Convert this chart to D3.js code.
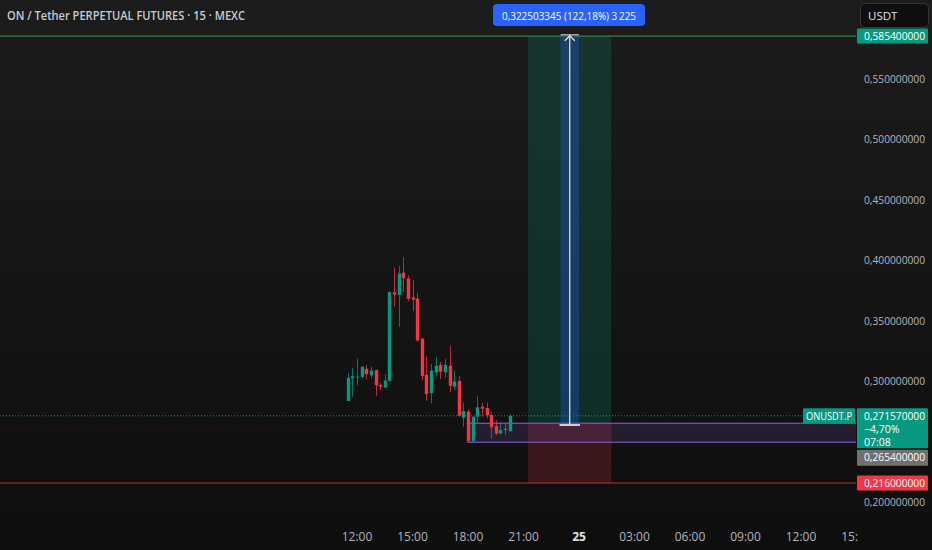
<!DOCTYPE html>
<html><head><meta charset="utf-8">
<script src="https://cdn.jsdelivr.net/npm/d3@7"></script>
<style>
html,body{margin:0;padding:0;background:#141414;overflow:hidden}
svg{display:block;font-family:"Open Sans","Noto Sans",sans-serif}
</style></head><body>
<svg id="c" width="932" height="550"></svg>
<script>
// ---- data ----
const times = ["11:30","11:45","12:00","12:15","12:30","12:45","13:00","13:15","13:30","13:45",
 "14:00","14:15","14:30","14:45","15:00","15:15","15:30","15:45","16:00","16:15",
 "16:30","16:45","17:00","17:15","17:30","17:45","18:00","18:15","18:30","18:45",
 "19:00","19:15","19:30","19:45","20:00","20:15"];
const open  = [.2838,.3026,.3037,.3037,.3104,.3050,.3095,.2970,.2949,.3004,
 .3737,.3715,.3898,.3850,.3693,.3685,.3353,.3054,.2902,.3073,
 .3137,.3076,.3129,.2957,.3004,.2700,.2750,.2509,.2708,.2791,
 .2780,.2722,.2630,.2570,.2608,.2589];
const high  = [.3070,.3112,.3187,.3130,.3134,.3123,.3095,.2990,.3060,.3745,
 .3939,.3953,.4025,.3876,.3837,.3732,.3358,.3206,.3145,.3200,
 .3162,.3184,.3295,.3090,.3046,.2824,.2770,.2715,.2880,.2824,
 .2824,.2750,.2680,.2666,.2650,.2730];
const low   = [.2838,.2873,.2970,.3026,.3020,.3026,.2880,.2924,.2949,.3000,
 .3616,.3450,.3737,.3662,.3580,.3330,.3007,.2841,.2819,.3040,
 .3020,.3032,.2915,.2930,.2708,.2625,.2500,.2500,.2647,.2708,
 .2695,.2528,.2556,.2562,.2562,.2583];
const close = [.3029,.3043,.3040,.3120,.3060,.3090,.2968,.2957,.3007,.3737,
 .3718,.3892,.3853,.3682,.3676,.3339,.3046,.2896,.3090,.3129,
 .3081,.3137,.2963,.2998,.2716,.2755,.2509,.2708,.2786,.2774,
 .2722,.2620,.2570,.2598,.2598,.27157];

const priceTicks = [0.20,0.30,0.35,0.40,0.45,0.50,0.55];
const timeTicks = ["2025-03-24T12:00","2025-03-24T15:00","2025-03-24T18:00","2025-03-24T21:00",
 "2025-03-25T00:00","2025-03-25T03:00","2025-03-25T06:00","2025-03-25T09:00","2025-03-25T12:00","2025-03-25T15:00"];

const lastPrice = 0.27157, changeText = "\u22124,70%", countdown = "07:08";
const entryPrice = 0.2654, targetPrice = 0.5854, stopPrice = 0.216;
const posStart = "2025-03-24T21:15", posEnd = "2025-03-25T01:45";
const measureFrom = 0.26396, measureTo = 0.58646, measureStart = "2025-03-24T23:00", measureEnd = "2025-03-25T00:00", measureMid = "2025-03-24T23:30";
const measureLabel = "0,322503345 (122,18%) 3\u2009225";
const boxStart = "2025-03-24T18:00", boxTop = 0.2654, boxBottom = 0.2497;
const title = "ON / Tether PERPETUAL FUTURES \u00b7 15 \u00b7 MEXC";
const symbolLabel = "ONUSDT.P";

// ---- setup ----
const W = 932, H = 550, plotR = 856;
const svg = d3.select("#c");
const parse = s => new Date(s + ":00Z");
const x = d3.scaleUtc().domain([parse("2025-03-24T12:00"), parse("2025-03-25T12:00")]).range([357, 801]);
const y = d3.scaleLinear().domain([0.2, 0.6]).range([502.4, 18.4]);
const fmt = v => v.toFixed(9).replace(".", ",");
const GREEN = "#089981", RED = "#f23645";

const defs = svg.append("defs");
const g = defs.append("linearGradient").attr("id","bg").attr("x1",0).attr("x2",0).attr("y1",0).attr("y2",1);
g.append("stop").attr("offset","0%").attr("stop-color","#1c1c1c");
g.append("stop").attr("offset","100%").attr("stop-color","#0e0e0e");
defs.append("clipPath").attr("id","plot").append("rect").attr("x",0).attr("y",0).attr("width",plotR).attr("height",H);
defs.append("clipPath").attr("id","timeclip").append("rect").attr("x",0).attr("y",0).attr("width",plotR+2).attr("height",H);
svg.append("rect").attr("width",W).attr("height",H).attr("fill","url(#bg)");

const plot = svg.append("g").attr("clip-path","url(#plot)");

// horizontal target / stop lines
plot.append("line").attr("x1",0).attr("x2",plotR).attr("y1",y(targetPrice)).attr("y2",y(targetPrice))
  .attr("stroke","#4caf50").attr("stroke-width",1).attr("opacity",0.85);
plot.append("line").attr("x1",0).attr("x2",plotR).attr("y1",y(stopPrice)).attr("y2",y(stopPrice))
  .attr("stroke","#d8363f").attr("stroke-width",1).attr("opacity",0.85);

// position tool
const px0 = x(parse(posStart)), px1 = x(parse(posEnd));
plot.append("rect").attr("x",px0).attr("width",px1-px0).attr("y",y(targetPrice)).attr("height",y(entryPrice)-y(targetPrice))
  .attr("fill",GREEN).attr("opacity",0.2);
plot.append("rect").attr("x",px0).attr("width",px1-px0).attr("y",y(entryPrice)).attr("height",y(stopPrice)-y(entryPrice))
  .attr("fill",RED).attr("opacity",0.2);

// purple box
const bx0 = x(parse(boxStart));
plot.append("rect").attr("x",bx0).attr("width",plotR-bx0+5).attr("y",y(boxTop)).attr("height",y(boxBottom)-y(boxTop))
  .attr("fill","#7e57c2").attr("fill-opacity",0.18).attr("stroke","#7e57c2").attr("stroke-width",1.2);

// measure tool
const mx0 = x(parse(measureStart)), mx1 = x(parse(measureEnd)), mxm = x(parse(measureMid));
plot.append("rect").attr("x",mx0).attr("width",mx1-mx0).attr("y",y(measureTo)).attr("height",y(measureFrom)-y(measureTo))
  .attr("fill","#2962ff").attr("opacity",0.28);
plot.append("line").attr("x1",mxm).attr("x2",mxm).attr("y1",y(measureFrom)).attr("y2",y(measureTo))
  .attr("stroke","#e8e8e8").attr("stroke-width",1.2);
plot.append("path").attr("d",`M${mxm-5},${y(measureTo)+6}L${mxm},${y(measureTo)+1}L${mxm+5},${y(measureTo)+6}`)
  .attr("fill","none").attr("stroke","#e8e8e8").attr("stroke-width",1.2);
plot.append("line").attr("x1",mx0-1).attr("x2",mx1+1).attr("y1",y(measureFrom)).attr("y2",y(measureFrom))
  .attr("stroke","#cfcfcf").attr("stroke-width",2);
plot.append("line").attr("x1",mx0).attr("x2",mx1).attr("y1",y(measureTo)).attr("y2",y(measureTo))
  .attr("stroke","#f0d0d0").attr("stroke-width",1);

// current price dotted line
plot.append("line").attr("x1",0).attr("x2",plotR).attr("y1",y(lastPrice)).attr("y2",y(lastPrice))
  .attr("stroke",GREEN).attr("stroke-width",1).attr("stroke-dasharray","1,2");

// candles
const candles = times.map((t,i)=>({t:parse("2025-03-24T"+t),o:open[i],h:high[i],l:low[i],c:close[i]}));
const bw = 3.4;
const cg = plot.append("g");
cg.selectAll("line.w").data(candles).join("line")
  .attr("x1",d=>Math.round(x(d.t))+0.5).attr("x2",d=>Math.round(x(d.t))+0.5)
  .attr("y1",d=>y(d.h)).attr("y2",d=>y(d.l))
  .attr("stroke",d=>d.c>=d.o?GREEN:RED).attr("stroke-width",1).attr("opacity",0.75);
cg.selectAll("rect.b").data(candles).join("rect")
  .attr("x",d=>Math.round(x(d.t))+0.5-bw/2).attr("width",bw)
  .attr("y",d=>y(Math.max(d.o,d.c))).attr("height",d=>Math.max(1,Math.abs(y(d.o)-y(d.c))))
  .attr("fill",d=>d.c>=d.o?GREEN:RED);

// time axis
const tg = svg.append("g").attr("clip-path","url(#timeclip)");
tg.selectAll("text").data(timeTicks.map(parse)).join("text")
  .attr("x",d=>x(d)).attr("y",541).attr("text-anchor","middle")
  .attr("font-size",12)
  .attr("fill",d=>d.getUTCHours()===0?"#e0e3eb":"#b2b5be")
  .attr("font-weight",d=>d.getUTCHours()===0?700:400)
  .text(d=>d.getUTCHours()===0?String(d.getUTCDate()):d3.utcFormat("%H:%M")(d));

// price axis labels
svg.append("g").selectAll("text").data(priceTicks).join("text")
  .attr("x",864).attr("y",d=>y(d)+4).attr("font-size",11).attr("fill","#b2b5be")
  .attr("textLength",61).attr("lengthAdjust","spacingAndGlyphs")
  .text(fmt);

// price labels (boxes)
function priceBox(yc, h, fill, lines){
  const top = yc - 7.5;
  svg.append("rect").attr("x",857).attr("y",top).attr("width",71).attr("height",h).attr("fill",fill).attr("rx",1);
  lines.forEach((s,i)=>{
    svg.append("text").attr("x",864).attr("y",top+11.5+i*13).attr("font-size",10.5).attr("fill","#ffffff")
      .attr("textLength", i===0?61:null).attr("lengthAdjust","spacingAndGlyphs").text(s);
  });
}
priceBox(y(targetPrice), 15, GREEN, [fmt(targetPrice)]);
priceBox(y(lastPrice), 40, GREEN, [fmt(lastPrice), changeText, countdown]);
priceBox(y(entryPrice)+34, 16, "#707070", [fmt(entryPrice)]);
priceBox(y(stopPrice), 15, RED, [fmt(stopPrice)]);

// symbol label
svg.append("rect").attr("x",803).attr("y",y(lastPrice)-7.5).attr("width",52).attr("height",15).attr("fill",GREEN);
svg.append("text").attr("x",806).attr("y",y(lastPrice)+4).attr("font-size",11)
  .attr("textLength",46).attr("lengthAdjust","spacingAndGlyphs")
  .attr("fill","#ffffff").text(symbolLabel);

// measure label
svg.append("rect").attr("x",493).attr("y",4).attr("width",152).attr("height",22).attr("rx",4).attr("fill","#2962ff");
svg.append("text").attr("x",502).attr("y",19.5).attr("font-size",11.5)
  .attr("textLength",134).attr("lengthAdjust","spacingAndGlyphs")
  .attr("fill","#ffffff").text(measureLabel);

// USDT button
svg.append("rect").attr("x",860.5).attr("y",3.5).attr("width",68).attr("height",24).attr("rx",4)
  .attr("fill","#0f0f0f").attr("stroke","#363636");
svg.append("text").attr("x",868).attr("y",19.5).attr("font-size",11.5).attr("fill","#e0e3eb").text("USDT");

// title
svg.append("text").attr("x",7).attr("y",19.5).attr("font-size",12.5).attr("font-weight",600)
  .attr("textLength",238).attr("lengthAdjust","spacingAndGlyphs")
  .attr("fill","#c8cbd3").text(title);
</script>
</body></html>
